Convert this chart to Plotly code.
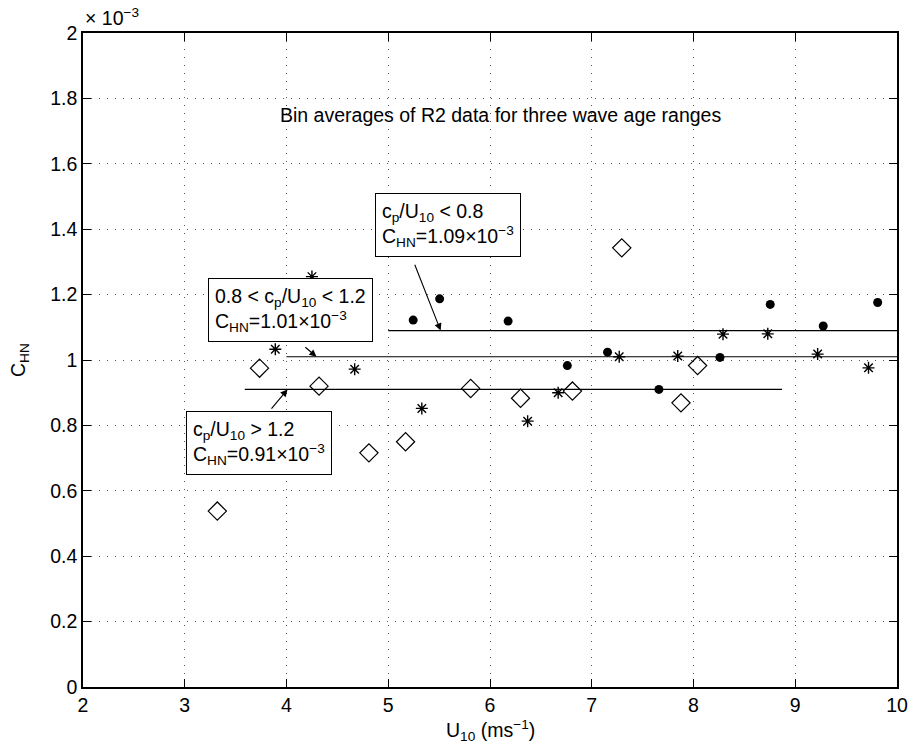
import plotly.graph_objects as go

# Bin-averaged heat transfer coefficient (units of 1e-3) versus wind speed
# Wave age range cp/U10 > 1.2 (open diamonds)
u_old = [3.32, 3.735, 4.32, 4.81, 5.17, 5.81, 6.30, 6.81, 7.295, 7.877, 8.04]
c_old = [0.538, 0.975, 0.920, 0.716, 0.750, 0.913, 0.883, 0.905, 1.343, 0.869, 0.983]

# Wave age range 0.8 < cp/U10 < 1.2 (asterisks)
u_mid = [3.89, 4.25, 4.67, 5.33, 6.37, 6.67, 7.27, 7.845, 8.29, 8.73, 9.22, 9.72]
c_mid = [1.033, 1.255, 0.972, 0.852, 0.813, 0.900, 1.010, 1.012, 1.079, 1.080, 1.018, 0.976]

# Wave age range cp/U10 < 0.8 (filled dots)
u_young = [5.245, 5.505, 6.178, 6.76, 7.155, 7.66, 8.26, 8.754, 9.275, 9.81]
c_young = [1.122, 1.187, 1.119, 0.983, 1.024, 0.910, 1.008, 1.170, 1.104, 1.176]

# Mean values and the wind-speed span of each mean line
mean_young, span_young = 1.09, [5.0, 10.0]
mean_mid, span_mid = 1.01, [4.0, 10.0]
mean_old, span_old = 0.91, [3.59, 8.87]

y_ticks = [0, 0.2, 0.4, 0.6, 0.8, 1.0, 1.2, 1.4, 1.6, 1.8, 2.0]
y_tick_text = ["0", "0.2", "0.4", "0.6", "0.8", "1", "1.2", "1.4", "1.6", "1.8", "2"]
x_ticks = [2, 3, 4, 5, 6, 7, 8, 9, 10]

FONT = "Liberation Sans, Arial, Helvetica, sans-serif"
FS = 19.5

fig = go.Figure()

for span, mean in [(span_young, mean_young), (span_mid, mean_mid), (span_old, mean_old)]:
    fig.add_trace(go.Scatter(
        x=span, y=[mean, mean], mode="lines",
        line=dict(color="black", width=1.2), showlegend=False, hoverinfo="skip"))

fig.add_trace(go.Scatter(
    x=u_old, y=c_old, mode="markers", showlegend=False,
    marker=dict(symbol="diamond-open", size=14, color="black",
                line=dict(color="black", width=1.2))))
fig.add_trace(go.Scatter(
    x=u_mid, y=c_mid, mode="markers", showlegend=False,
    marker=dict(symbol="asterisk-open", size=10, color="black",
                line=dict(color="black", width=1.4))))
fig.add_trace(go.Scatter(
    x=u_young, y=c_young, mode="markers", showlegend=False,
    marker=dict(symbol="circle", size=9, color="black",
                line=dict(color="black", width=0))))

annotations = []

# Text boxes labelling each mean line
boxes = [
    (4.874, 1.510, "c<sub>p</sub>/U<sub>10</sub> &lt; 0.8<br>C<sub>HN</sub>=1.09×10<sup>−3</sup>"),
    (3.226, 1.250, "0.8 &lt; c<sub>p</sub>/U<sub>10</sub> &lt; 1.2<br>C<sub>HN</sub>=1.01×10<sup>−3</sup>"),
    (3.013, 0.845, "c<sub>p</sub>/U<sub>10</sub> &gt; 1.2<br>C<sub>HN</sub>=0.91×10<sup>−3</sup>"),
]
for bx, by, txt in boxes:
    annotations.append(dict(
        x=bx, y=by, xref="x", yref="y", xanchor="left", yanchor="top",
        text=txt, showarrow=False, align="left",
        font=dict(family=FONT, size=FS, color="black"),
        bgcolor="white", bordercolor="black", borderwidth=1, borderpad=6))

# Arrows from the boxes to the mean lines
arrows = [
    ((5.255, 1.296), (5.515, mean_young)),
    ((4.17, 1.043), (4.295, mean_mid)),
    ((3.84, 0.847), (4.01, mean_old)),
]
for (tx, ty), (hx, hy) in arrows:
    annotations.append(dict(
        x=hx, y=hy, ax=tx, ay=ty, xref="x", yref="y", axref="x", ayref="y",
        text="", showarrow=True, arrowhead=2, arrowsize=1.3, arrowwidth=1.1,
        arrowcolor="black", standoff=0, startstandoff=0))

annotations.append(dict(
    x=6.1, y=1.75, xref="x", yref="y", xanchor="center", yanchor="middle",
    text="Bin averages of R2 data for three wave age ranges", showarrow=False,
    font=dict(family=FONT, size=FS, color="black")))

# Exponent above the y axis
annotations.append(dict(
    x=0, y=1, xref="paper", yref="paper", xanchor="left", yanchor="bottom",
    text="× 10<sup>−3</sup>", showarrow=False, yshift=2,
    font=dict(family=FONT, size=FS, color="black")))

# Axis titles
annotations.append(dict(
    x=0.5, y=0, xref="paper", yref="paper", xanchor="center", yanchor="top",
    text="U<sub>10</sub> (ms<sup>−1</sup>)", showarrow=False, yshift=-28,
    font=dict(family=FONT, size=FS, color="black")))
annotations.append(dict(
    x=0, y=0.5, xref="paper", yref="paper", xanchor="center", yanchor="middle",
    text="C<sub>HN</sub>", showarrow=False, textangle=-90, xshift=-64,
    font=dict(family=FONT, size=FS, color="black")))

axis_common = dict(
    showline=True, linecolor="black", linewidth=1.5, mirror="allticks",
    ticks="inside", ticklen=8, tickwidth=1, tickcolor="black",
    showgrid=True, gridcolor="#555555", gridwidth=1, griddash="1px,7px",
    zeroline=False, tickfont=dict(family=FONT, size=FS, color="black"))

fig.update_layout(
    width=920, height=747,
    margin=dict(l=83, r=13, t=33, b=60),
    paper_bgcolor="white", plot_bgcolor="white",
    font=dict(family=FONT, size=FS, color="black"),
    xaxis=dict(range=[2, 10], tickvals=x_ticks, **axis_common),
    yaxis=dict(range=[0, 2], tickvals=y_ticks, ticktext=y_tick_text, **axis_common),
    annotations=annotations,
    showlegend=False)

fig.write_html("out.html")
